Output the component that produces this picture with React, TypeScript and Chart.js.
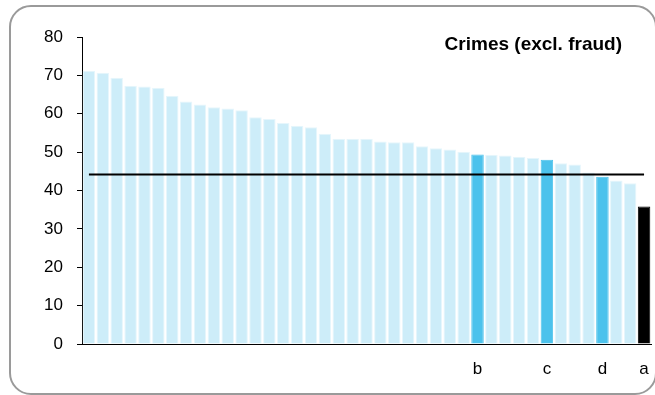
import React, { useEffect, useRef } from "react";
import { Chart, registerables } from "chart.js";

Chart.register(...registerables);

const categories: string[] = [
  "", "", "", "", "", "", "", "", "", "",
  "", "", "", "", "", "", "", "", "", "",
  "", "", "", "", "", "", "", "", "b", "",
  "", "", "", "c", "", "", "", "d", "", "",
  "a",
];

const crimeValues: number[] = [
  71.2, 70.7, 69.4, 67.3, 67.1, 66.8, 64.7, 63.2, 62.4, 61.7,
  61.4, 60.9, 59.1, 58.6, 57.6, 56.9, 56.5, 54.8, 53.5, 53.5,
  53.5, 52.8, 52.6, 52.6, 51.5, 51.0, 50.7, 50.1, 49.4, 49.3,
  49.1, 48.8, 48.5, 48.0, 47.1, 46.8, 44.7, 43.6, 42.6, 41.9,
  35.8,
];

const averageValue = 44.2;
const yTicks: number[] = [0, 10, 20, 30, 40, 50, 60, 70, 80];
const chartTitle = "Crimes (excl. fraud)";

const LIGHT = "#cdedf9";
const BLUE = "#4cc2ec";
const BLACK = "#000000";
const FONT = "'Liberation Sans', Arial, sans-serif";

export default function App() {
  const ref = useRef<HTMLCanvasElement | null>(null);

  useEffect(() => {
    if (!ref.current) return;
    const barColors = categories.map((c) =>
      c === "a" ? BLACK : c === "" ? LIGHT : BLUE
    );
    const barBorders = categories.map((c) =>
      c === "" ? "#e6f6fc" : c === "a" ? BLACK : BLUE
    );

    const titlePlugin = {
      id: "insideTitle",
      afterDraw(chart: any) {
        const ctx = chart.ctx;
        ctx.save();
        ctx.font = `bold 19px ${FONT}`;
        ctx.fillStyle = "#000";
        ctx.textAlign = "right";
        ctx.textBaseline = "alphabetic";
        ctx.fillText(chartTitle, 622, 50);
        ctx.restore();
      },
    };

    const chart = new Chart(ref.current, {
      data: {
        labels: categories,
        datasets: [
          {
            type: "line" as const,
            data: categories.map(() => averageValue),
            borderColor: "#000",
            borderWidth: 2,
            pointRadius: 0,
            order: 0,
          },
          {
            type: "bar" as const,
            data: crimeValues,
            backgroundColor: barColors,
            borderColor: barBorders,
            borderWidth: 1,
            barPercentage: 0.9,
            categoryPercentage: 1,
            order: 1,
          },
        ],
      },
      options: {
        animation: false,
        responsive: false,
        maintainAspectRatio: false,
        layout: { padding: { left: 0, right: 4, top: 37, bottom: 0 } },
        plugins: {
          legend: { display: false },
          tooltip: { enabled: false },
          title: { display: false },
        },
        scales: {
          x: {
            type: "category",
            offset: true,
            grid: { display: false, drawTicks: false },
            border: { display: true, color: "#000", width: 1 },
            ticks: {
              autoSkip: false,
              maxRotation: 0,
              minRotation: 0,
              padding: 15,
              color: "#000",
              font: { family: FONT, size: 17 },
            },
            afterFit: (s: any) => {
              s.height = 51;
              s.paddingLeft = 0;
              s.paddingRight = 0;
            },
          },
          y: {
            min: 0,
            max: 80,
            afterBuildTicks: (s: any) => {
              s.ticks = yTicks.map((v) => ({ value: v }));
            },
            grid: {
              drawOnChartArea: false,
              drawTicks: true,
              tickLength: 5,
              color: "#000",
            },
            border: { display: true, color: "#000", width: 1 },
            ticks: {
              padding: 14,
              color: "#000",
              font: { family: FONT, size: 17 },
            },
            afterFit: (s: any) => {
              s.width = 82;
            },
          },
        },
      },
      plugins: [titlePlugin],
    } as any);

    return () => chart.destroy();
  }, []);

  return (
    <div style={{ position: "fixed", left: 0, top: 0, width: 655, height: 395, background: "#fff" }}>
      <div
        style={{
          position: "absolute",
          left: 9,
          top: 5,
          width: 644,
          height: 386,
          border: "2px solid #9a9a9a",
          borderRadius: 22,
          boxSizing: "content-box",
        }}
      />
      <canvas
        ref={ref}
        width={655}
        height={395}
        style={{ position: "absolute", left: 0, top: 0, width: 655, height: 395 }}
      />
    </div>
  );
}
